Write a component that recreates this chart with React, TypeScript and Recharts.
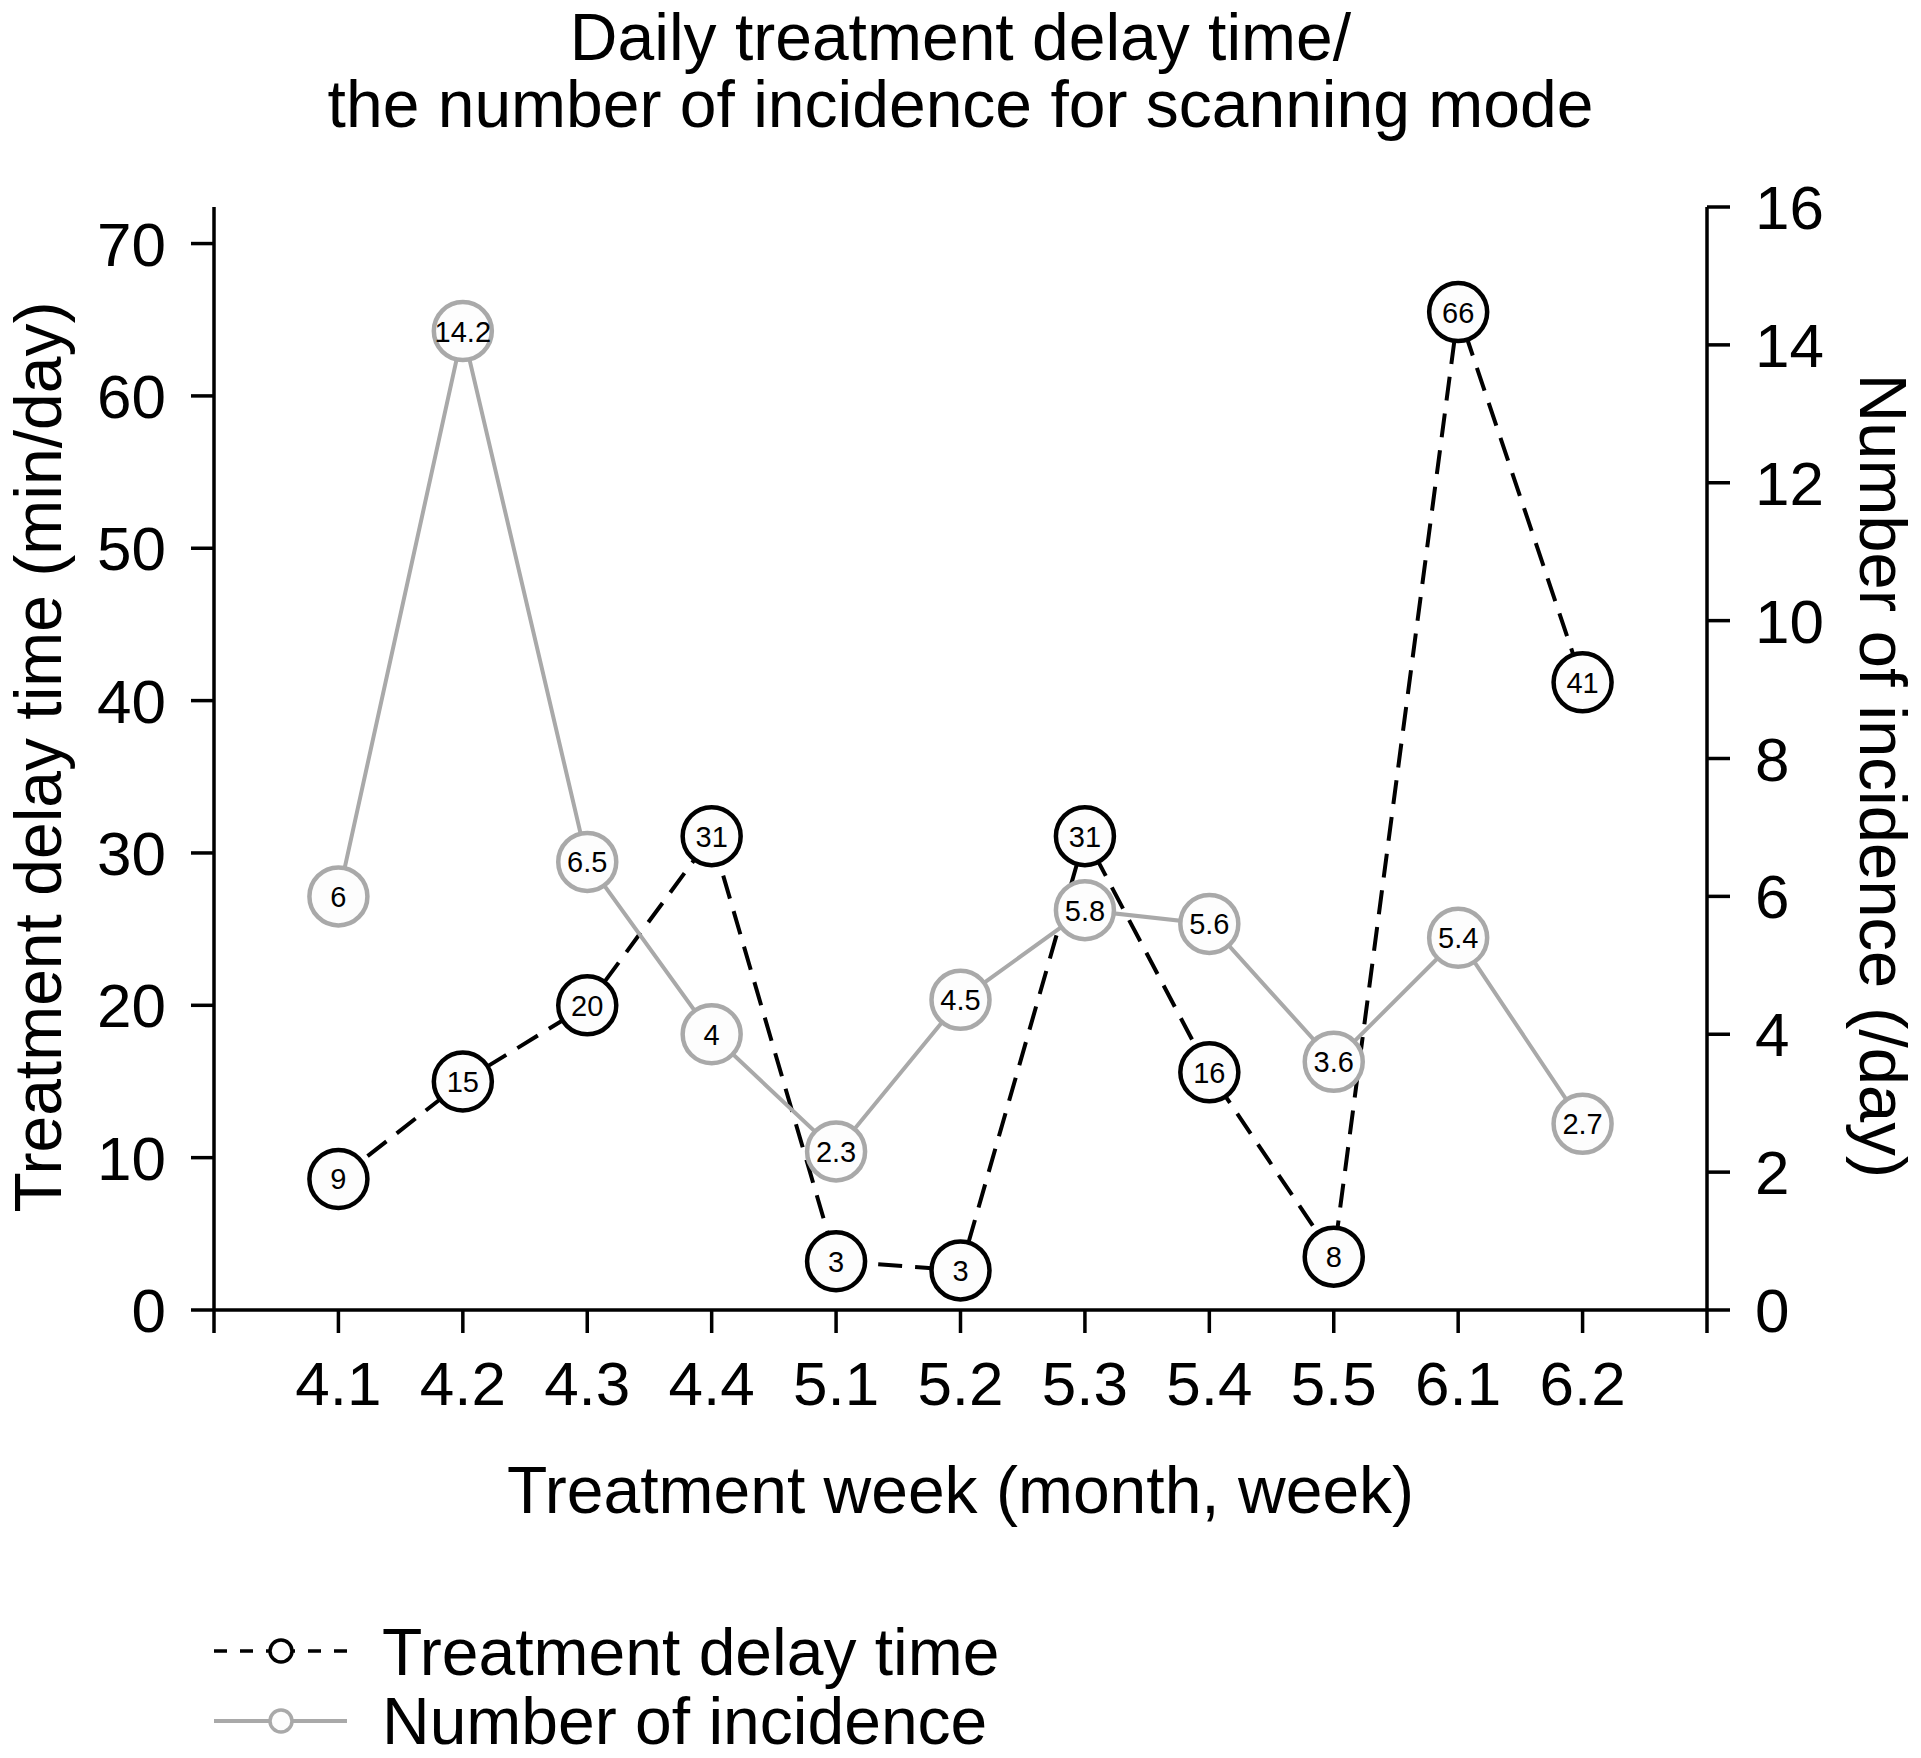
import React from "react";
import { LineChart, Line, XAxis, YAxis, Label } from "recharts";

const FONT = "'Liberation Sans', Arial, Helvetica, sans-serif";
const GRAY = "#a9a9a9";

// treatment week (month.week)
const weeks = ["4.1", "4.2", "4.3", "4.4", "5.1", "5.2", "5.3", "5.4", "5.5", "6.1", "6.2"];
// daily treatment delay time, min/day (left axis)
const delayTime = [8.6, 15.0, 20.0, 31.1, 3.2, 2.6, 31.1, 15.6, 3.5, 65.5, 41.2];
// numbers printed inside the black circles
const delayLabels = ["9", "15", "20", "31", "3", "3", "31", "16", "8", "66", "41"];
// number of incidence per day (right axis)
const incidence = [6, 14.2, 6.5, 4, 2.3, 4.5, 5.8, 5.6, 3.6, 5.4, 2.7];

const leftTicks = [0, 10, 20, 30, 40, 50, 60, 70];
const rightTicks = [0, 2, 4, 6, 8, 10, 12, 14, 16];
// slots 0 and 12 are the empty ends of the x axis
const xTicks = [0, 1, 2, 3, 4, 5, 6, 7, 8, 9, 10, 11, 12];

const data = weeks.map((week, i) => ({
	pos: i + 1,
	week,
	delay: delayTime[i],
	incidence: incidence[i],
}));

const makeDot = (stroke: string, labels: string[]) => (props: any) => {
	const { cx, cy, index } = props;
	if (cx == null || cy == null) return <g key={`e-${stroke}-${index}`} />;
	return (
		<g key={`d-${stroke}-${index}`}>
			<circle cx={cx} cy={cy} r={29} fill="#fdfdfd" stroke={stroke} strokeWidth={4.5} />
			<text
				x={cx}
				y={cy}
				dy="0.36em"
				textAnchor="middle"
				fontSize={29}
				fontFamily={FONT}
				fill="#000"
			>
				{labels[index]}
			</text>
		</g>
	);
};

const axisStyle = { stroke: "#000", strokeWidth: 3.5 };
const tickStyle = { fill: "#000", fontSize: 62, fontFamily: FONT };

export default function App() {
	return (
		<div
			style={{
				position: "absolute",
				left: 0,
				top: 0,
				width: 1921,
				height: 1758,
				background: "#fff",
			}}
		>
			<LineChart
				width={1921}
				height={1758}
				data={data}
				margin={{ top: 207, right: 0, bottom: 245, left: 0 }}
			>
				<XAxis
					dataKey="pos"
					type="number"
					domain={[0, 12]}
					ticks={xTicks}
					interval={0}
					height={203}
					tickSize={23}
					tickMargin={28}
					axisLine={axisStyle}
					tickLine={axisStyle}
					tick={tickStyle}
					tickFormatter={(v: number) => weeks[v - 1] ?? ""}
				>
					<Label
						content={() => (
							<text
								x={960.5}
								y={1513}
								textAnchor="middle"
								fontSize={66}
								fontFamily={FONT}
								fill="#000"
							>
								Treatment week (month, week)
							</text>
						)}
					/>
				</XAxis>
				<YAxis
					yAxisId="left"
					orientation="left"
					width={214}
					domain={[0, 72.4]}
					ticks={leftTicks}
					interval={0}
					tickSize={23}
					tickMargin={25}
					axisLine={axisStyle}
					tickLine={axisStyle}
					tick={tickStyle}
				>
					<Label
						content={() => (
							<text
								x={61}
								y={757}
								transform="rotate(-90, 61, 757)"
								textAnchor="middle"
								fontSize={66}
								fontFamily={FONT}
								fill="#000"
							>
								Treatment delay time (min/day)
							</text>
						)}
					/>
				</YAxis>
				<YAxis
					yAxisId="right"
					orientation="right"
					width={214}
					domain={[0, 16]}
					ticks={rightTicks}
					interval={0}
					tickSize={23}
					tickMargin={25}
					axisLine={axisStyle}
					tickLine={axisStyle}
					tick={tickStyle}
				>
					<Label
						content={() => (
							<text
								x={1860}
								y={776}
								transform="rotate(90, 1860, 776)"
								textAnchor="middle"
								fontSize={67}
								fontFamily={FONT}
								fill="#000"
							>
								Number of incidence (/day)
							</text>
						)}
					/>
				</YAxis>
				<Line
					yAxisId="left"
					dataKey="delay"
					name="Treatment delay time"
					stroke="#000"
					strokeWidth={4}
					strokeDasharray="24 13"
					dot={makeDot("#000", delayLabels)}
					activeDot={false}
					isAnimationActive={false}
				/>
				<Line
					yAxisId="right"
					dataKey="incidence"
					name="Number of incidence"
					stroke={GRAY}
					strokeWidth={4}
					dot={makeDot(GRAY, incidence.map((v) => String(v)))}
					activeDot={false}
					isAnimationActive={false}
				/>
			</LineChart>
			<svg
				width={1921}
				height={1758}
				style={{ position: "absolute", left: 0, top: 0, pointerEvents: "none" }}
			>
				<g fontFamily={FONT} fontSize={66} fill="#000" textAnchor="middle">
					<text x={960.5} y={60}>
						Daily treatment delay time/
					</text>
					<text x={960.5} y={127}>
						the number of incidence for scanning mode
					</text>
				</g>
				<g>
					<line x1={214} y1={1651} x2={270} y2={1651} stroke="#000" strokeWidth={3.5} strokeDasharray="13 13" />
					<line x1={347} y1={1651} x2={292} y2={1651} stroke="#000" strokeWidth={3.5} strokeDasharray="13 13" />
					<circle cx={281} cy={1651} r={11} fill="#fdfdfd" stroke="#000" strokeWidth={3.5} />
					<line x1={214} y1={1721} x2={347} y2={1721} stroke={GRAY} strokeWidth={4} />
					<circle cx={281} cy={1721} r={11} fill="#fdfdfd" stroke={GRAY} strokeWidth={3.5} />
				</g>
				<g fontFamily={FONT} fontSize={66} fill="#000">
					<text x={382} y={1675}>Treatment delay time</text>
					<text x={382} y={1744}>Number of incidence</text>
				</g>
			</svg>
		</div>
	);
}
